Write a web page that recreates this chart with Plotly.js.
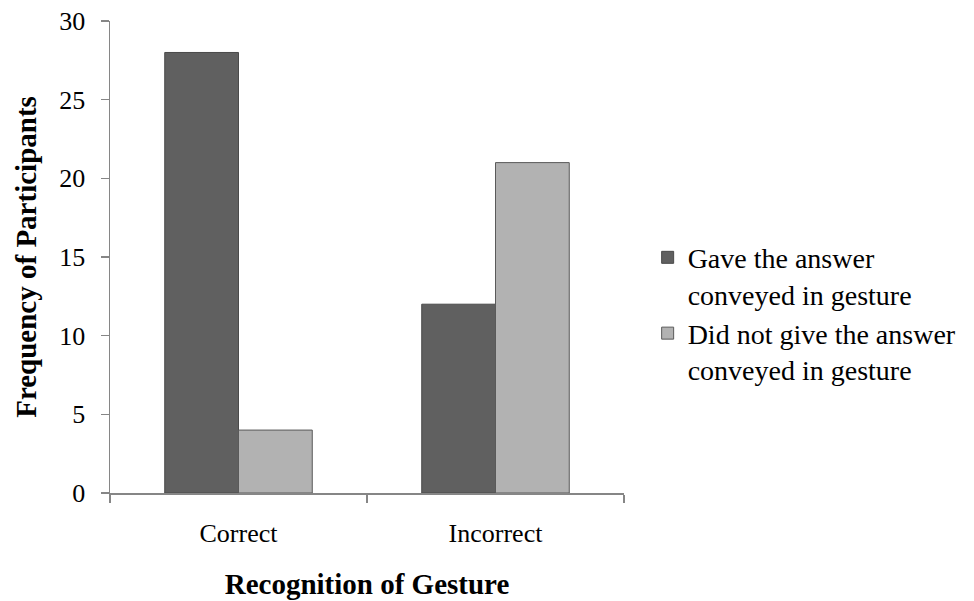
<!DOCTYPE html>
<html>
<head>
<meta charset="utf-8">
<script src="https://cdn.plot.ly/plotly-3.0.1.min.js"></script>
<style>html,body{margin:0;padding:0;background:#fff;}#chart{width:974px;height:601px;}</style>
</head>
<body>
<div id="chart"></div>
<script>
const categories = ["Correct", "Incorrect"];
const seriesNames = ["Gave the answer<br>conveyed in gesture", "Did not give the answer<br>conveyed in gesture"];
const gaveAnswer = [28, 12];
const didNotGive = [4, 21];
const yTicks = [0, 5, 10, 15, 20, 25, 30];

const font = "'Liberation Serif', 'Times New Roman', serif";
const traces = [
  {type: "bar", name: seriesNames[0], x: categories, y: gaveAnswer,
   marker: {color: "#606060", line: {color: "#4a4a4a", width: 1}}},
  {type: "bar", name: seriesNames[1], x: categories, y: didNotGive,
   marker: {color: "#b2b2b2", line: {color: "#5a5a5a", width: 1}}}
];
const layout = {
  width: 974, height: 601,
  margin: {l: 110, r: 348, t: 21, b: 108},
  paper_bgcolor: "#fff", plot_bgcolor: "#fff",
  barmode: "group", bargap: 0.426, bargroupgap: 0,
  font: {family: font, size: 26, color: "#000"},
  xaxis: {
    type: "category",
    showline: true, linecolor: "#868686", linewidth: 1.5,
    ticks: "outside", tickson: "boundaries", ticklen: 8, tickcolor: "#868686", tickwidth: 1.5,
    tickfont: {family: font, size: 26}, ticklabelstandoff: 16,
    title: {text: "<b>Recognition of Gesture</b>", font: {family: font, size: 29}, standoff: 27},
    showgrid: false, zeroline: false
  },
  yaxis: {
    range: [0, 30], tickvals: yTicks, ticktext: yTicks.map(String),
    showline: true, linecolor: "#868686", linewidth: 1.5,
    ticks: "outside", ticklen: 8, tickcolor: "#868686", tickwidth: 1.5,
    tickfont: {family: font, size: 26}, ticklabelstandoff: 10,
    title: {text: "<b>Frequency of Participants</b>", font: {family: font, size: 29}, standoff: 14},
    showgrid: false, zeroline: false
  },
  legend: {
    x: 1.046, xanchor: "left", y: 0.38, yanchor: "middle",
    font: {family: font, size: 28}, valign: "top",
    itemwidth: 30, tracegroupgap: 6, bgcolor: "rgba(0,0,0,0)"
  },
  showlegend: true
};
Plotly.newPlot("chart", traces, layout, {staticPlot: true, displayModeBar: false});
</script>
</body>
</html>
